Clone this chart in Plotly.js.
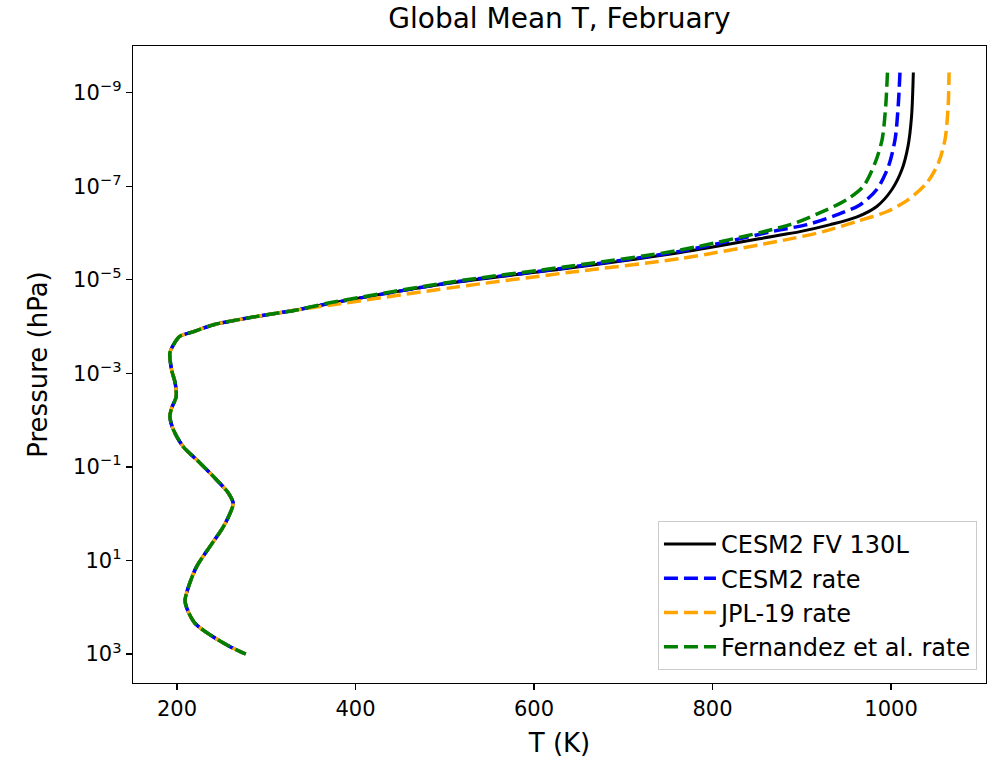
<!DOCTYPE html>
<html>
<head>
<meta charset="utf-8">
<script src="https://cdn.plot.ly/plotly-3.0.1.min.js"></script>
<style>html,body{margin:0;padding:0;background:#fff;}#chart{width:988px;height:762px;}</style>
</head>
<body>
<div id="chart"></div>
<script>
// Temperature (K) and pressure (hPa), ordered from model top to surface
const T_cesm2_fv = [1025, 1023, 1019, 1012, 1001, 984, 962, 932, 898, 876, 764, 640, 506, 371, 334, 278, 241, 218, 203, 196, 192, 194, 198, 199, 194, 192, 196, 207, 226, 244.5, 257.5, 263, 261, 252, 237, 222, 213, 209, 211, 220, 237, 259, 277];
const P_cesm2_fv = [3.7e-10, 3.2e-9, 1.4e-8, 4.5e-8, 1.17e-7, 2.7e-7, 4.5e-7, 6.6e-7, 9.3e-7, 1.1e-6, 2.6e-6, 5.6e-6, 1.17e-5, 3.2e-5, 4.4e-5, 6.6e-5, 9.1e-5, 1.29e-4, 1.62e-4, 2.45e-4, 3.7e-4, 8.5e-4, 1.62e-3, 3.2e-3, 5.5e-3, 8.3e-3, 1.62e-2, 3.7e-2, 8.3e-2, 0.19, 0.36, 0.60, 0.83, 1.9, 5.0, 13.5, 36, 71, 105, 219, 389, 692, 1000];

const T_cesm2_rate = [1010, 1008, 1004.5, 997, 984, 965, 939, 906, 876, 764, 640, 506, 371, 334, 278, 241, 218, 203, 196, 192, 194, 198, 199, 194, 192, 196, 207, 226, 244.5, 257.5, 263, 261, 252, 237, 222, 213, 209, 211, 220, 237, 259, 277];
const P_cesm2_rate = [3.7e-10, 1.95e-9, 1.0e-8, 3.8e-8, 1.17e-7, 2.5e-7, 4.1e-7, 6.6e-7, 8.5e-7, 2.45e-6, 5.4e-6, 1.15e-5, 3.2e-5, 4.4e-5, 6.6e-5, 9.1e-5, 1.29e-4, 1.62e-4, 2.45e-4, 3.7e-4, 8.5e-4, 1.62e-3, 3.2e-3, 5.5e-3, 8.3e-3, 1.62e-2, 3.7e-2, 8.3e-2, 0.19, 0.36, 0.60, 0.83, 1.9, 5.0, 13.5, 36, 71, 105, 219, 389, 692, 1000];

const T_jpl19_rate = [1065, 1064, 1060.5, 1053, 1040, 1019, 995, 962, 924, 883, 764, 640, 510, 375, 334, 278, 241, 218, 203, 196, 192, 194, 198, 199, 194, 192, 196, 207, 226, 244.5, 257.5, 263, 261, 252, 237, 222, 213, 209, 211, 220, 237, 259, 277];
const P_jpl19_rate = [3.7e-10, 1.95e-9, 1.0e-8, 3.2e-8, 8.5e-8, 1.95e-7, 3.5e-7, 5.6e-7, 9.3e-7, 1.38e-6, 3.5e-6, 6.9e-6, 1.45e-5, 3.4e-5, 4.4e-5, 6.6e-5, 9.1e-5, 1.29e-4, 1.62e-4, 2.45e-4, 3.7e-4, 8.5e-4, 1.62e-3, 3.2e-3, 5.5e-3, 8.3e-3, 1.62e-2, 3.7e-2, 8.3e-2, 0.19, 0.36, 0.60, 0.83, 1.9, 5.0, 13.5, 36, 71, 105, 219, 389, 692, 1000];

const T_fernandez_rate = [996, 994, 990, 982, 969, 950, 920, 887, 764, 640, 506, 371, 334, 278, 241, 218, 203, 196, 192, 194, 198, 199, 194, 192, 196, 207, 226, 244.5, 257.5, 263, 261, 252, 237, 222, 213, 209, 211, 220, 237, 259, 277];
const P_fernandez_rate = [3.7e-10, 1.95e-9, 1.0e-8, 3.2e-8, 1.0e-7, 1.95e-7, 3.7e-7, 6.6e-7, 2.3e-6, 5.1e-6, 1.12e-5, 3.1e-5, 4.4e-5, 6.6e-5, 9.1e-5, 1.29e-4, 1.62e-4, 2.45e-4, 3.7e-4, 8.5e-4, 1.62e-3, 3.2e-3, 5.5e-3, 8.3e-3, 1.62e-2, 3.7e-2, 8.3e-2, 0.19, 0.36, 0.60, 0.83, 1.9, 5.0, 13.5, 36, 71, 105, 219, 389, 692, 1000];

const seriesNames = ["CESM2 FV 130L", "CESM2 rate", "JPL-19 rate", "Fernandez et al. rate"];
const yTickVals = [1e-9, 1e-7, 1e-5, 1e-3, 1e-1, 1e1, 1e3];
const yTickText = ["10<sup>−9</sup>", "10<sup>−7</sup>", "10<sup>−5</sup>", "10<sup>−3</sup>", "10<sup>−1</sup>", "10<sup>1</sup>", "10<sup>3</sup>"];
const xTickVals = [200, 400, 600, 800, 1000];

const dashStyle = "14px,6px";
const traces = [
  {x: T_cesm2_fv, y: P_cesm2_fv, name: seriesNames[0], mode: "lines", legendgroup: "a",
   line: {color: "black", width: 3, shape: "spline", smoothing: 0.8}},
  {x: T_cesm2_rate, y: P_cesm2_rate, name: seriesNames[1], mode: "lines", legendgroup: "b",
   line: {color: "blue", width: 3.5, dash: dashStyle, shape: "spline", smoothing: 0.8}},
  // drawn from the surface upward so its dash phase differs from the other dashed curves
  {x: T_jpl19_rate.slice().reverse(), y: P_jpl19_rate.slice().reverse(), name: seriesNames[2], mode: "lines", legendgroup: "c",
   line: {color: "orange", width: 3.5, dash: dashStyle, shape: "spline", smoothing: 0.8}},
  {x: T_fernandez_rate, y: P_fernandez_rate, name: seriesNames[3], mode: "lines", legendgroup: "d",
   line: {color: "green", width: 3.5, dash: dashStyle, shape: "spline", smoothing: 0.8}}
];

const font = "DejaVu Sans, sans-serif";
const layout = {
  width: 988, height: 762,
  margin: {l: 133, r: 2, t: 46, b: 79},
  paper_bgcolor: "white", plot_bgcolor: "white",
  font: {family: font, color: "black", size: 20},
  title: {text: "Global Mean T, February", font: {family: font, size: 28, color: "black"},
          x: 0.5, xref: "paper", y: 1 - 18/762, yref: "container", yanchor: "middle"},
  xaxis: {
    title: {text: "T (K)", font: {size: 26}, standoff: 14},
    range: [150.7, 1106.4], tickvals: xTickVals, ticks: "outside", ticklen: 6, tickwidth: 1.2,
    tickcolor: "black", showgrid: false, zeroline: false, showline: true, linecolor: "black",
    linewidth: 1.3, mirror: true, tickfont: {size: 21}
  },
  yaxis: {
    title: {text: "Pressure (hPa)", font: {size: 26}, standoff: 18},
    type: "log", range: [3.62, -10.0], tickvals: yTickVals, ticktext: yTickText,
    ticks: "outside", ticklen: 6, tickwidth: 1.2, tickcolor: "black", showgrid: false,
    zeroline: false, showline: true, linecolor: "black", linewidth: 1.3, mirror: true,
    tickfont: {size: 21}
  },
  showlegend: true,
  legend: {x: 0.9894, xanchor: "right", y: 0.0204, yanchor: "bottom",
           bgcolor: "white", bordercolor: "#cccccc", borderwidth: 1, itemwidth: 52,
           font: {size: 24, family: font}, tracegroupgap: 0}
};

Plotly.newPlot("chart", traces, layout, {displayModeBar: false, staticPlot: true});
</script>
</body>
</html>
